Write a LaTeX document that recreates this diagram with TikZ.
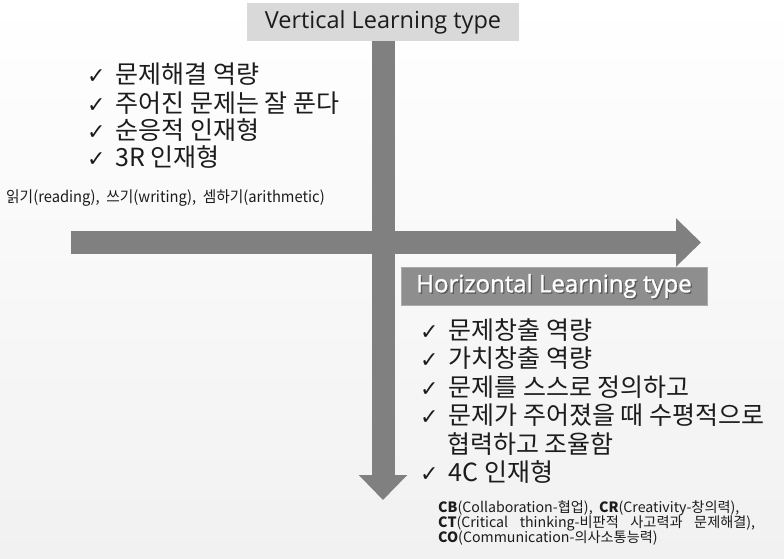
\documentclass[tikz,border=0pt]{standalone}
\usepackage{fontspec}
\setmainfont{Noto Sans CJK KR}
\newfontfamily\titlefont{Open Sans}
\newfontfamily\htfont[FakeBold=1.2]{Open Sans}
\newfontfamily\narrowfont[FakeStretch=0.95]{Noto Sans CJK KR}
\newfontfamily\symfont{DejaVu Sans}
\usetikzlibrary{arrows.meta}

\definecolor{arrowgray}{RGB}{128,128,128}
\definecolor{vboxfill}{RGB}{217,217,217}
\definecolor{hboxfill}{RGB}{142,142,142}
\definecolor{hboxline}{RGB}{170,170,170}
\definecolor{ink}{RGB}{28,28,28}
\definecolor{bgbottom}{RGB}{241,241,241}

\newcommand\chk{{\symfont\fontsize{22}{22}\selectfont ✓}\hspace{10pt}}

\tikzset{
  bigarrow/.style={draw=arrowgray, line width=23pt,
    -{Triangle[length=25pt,width=47pt]}},
  vtitle/.style={fill=vboxfill, minimum width=272pt, minimum height=38pt,
    inner sep=0pt, text=ink, font=\titlefont\fontsize{23.5}{27}\selectfont},
  htitle/.style={fill=hboxfill, draw=hboxline, line width=1pt,
    minimum width=306pt, minimum height=38pt, inner sep=0pt},
  htext/.style={inner sep=0pt, font=\htfont\fontsize{24}{28}\selectfont},
  item/.style={anchor=base west, inner sep=0pt, text=ink,
    font=\fontsize{25}{29}\selectfont},
  note/.style={anchor=base west, inner sep=0pt, text=ink,
    font=\narrowfont\fontsize{15.5}{18}\selectfont},
  gloss/.style={anchor=base west, inner sep=0pt, text=ink,
    font=\fontsize{14.2}{15}\selectfont},
}

\begin{document}
\begin{tikzpicture}[x=1pt,y=-1pt]
  % soft vertical background gradient
  \shade[top color=white, bottom color=bgbottom] (0,0) rectangle (784,558);
  \useasboundingbox (0,0) rectangle (784,558);

  % vertical axis with its title
  \node[vtitle] (vt) at (383,22) {Vertical Learning type};
  \coordinate (vend) at (383,500);
  \draw[bigarrow] (vt.south) -- (vend);

  % horizontal axis
  \coordinate (hstart) at (71,242.5);
  \coordinate (hend) at (701,242.5);
  \draw[bigarrow] (hstart) -- (hend);

  % horizontal title box with shadowed white text
  \node[htitle] (ht) at (554,286) {};
  \node[htext, text=black!75, opacity=0.6] (hts)
    at ([xshift=1.3pt,yshift=-1.3pt]ht.center) {Horizontal Learning type};
  \node[htext, text=white] (htt) at (ht.center) {Horizontal Learning type};

  % vertical-type traits
  \node[item] (v1) at (87,83) {\chk 문제해결 역량};
  \node[item] (v2) at (87,112) {\chk 주어진 문제는 잘 푼다};
  \node[item] (v3) at (87,139) {\chk 순응적 인재형};
  \node[item] (v4) at (87,166) {\chk 3R 인재형};
  \node[note] (v5) at (6,202) {읽기(reading),\ \ 쓰기(writing),\ \ 셈하기(arithmetic)};

  % horizontal-type traits
  \node[item] (h1) at (420,339) {\chk 문제창출 역량};
  \node[item] (h2) at (420,367.5) {\chk 가치창출 역량};
  \node[item] (h3) at (420,396) {\chk 문제를 스스로 정의하고};
  \node[item] (h4) at (420,424.5) {\chk 문제가 주어졌을 때 수평적으로};
  \node[item] (h5) at (447,453) {협력하고 조율함};
  \node[item] (h6) at (420,481) {\chk 4C 인재형};

  % 4C glossary
  \node[gloss] (c1) at (438,512) {\textbf{CB}(Collaboration-협업),\ \ \textbf{CR}(Creativity-창의력),};
  \node[gloss] (c2) at (438,527) {\makebox[317pt][s]{\textbf{CT}(Critical thinking-비판적 사고력과 문제해결),}};
  \node[gloss] (c3) at (438,542) {\textbf{CO}(Communication-의사소통능력)};
\end{tikzpicture}
\end{document}
